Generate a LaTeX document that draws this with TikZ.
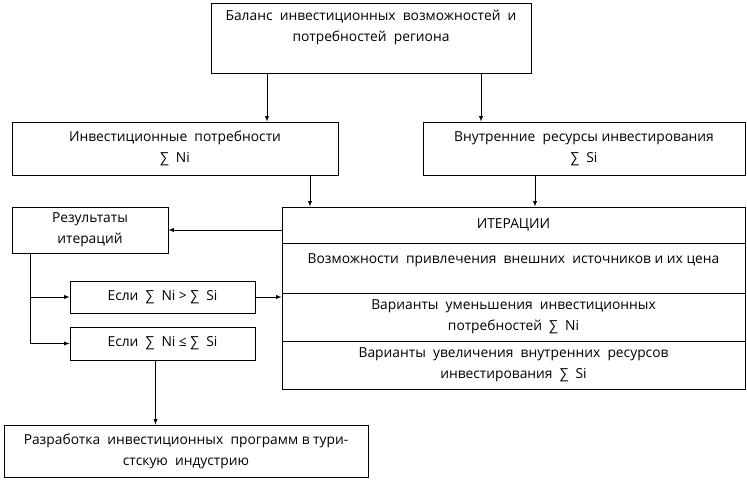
\documentclass[tikz,border=0pt]{standalone}
\usepackage{fontspec}
\setmainfont{Open Sans}
\begin{document}
\begin{tikzpicture}[>=latex, x=1pt, y=-1pt, line width=0.9pt,
  box/.style={draw, align=center, inner sep=2pt, font=\fontsize{13.8}{21}\selectfont}]
\useasboundingbox (0,0) rectangle (747,480);
% Верхний уровень
\node[box, minimum width=320, minimum height=70, text depth=25pt] (balance) at (371,38) {Баланс \ инвестиционных \ возможностей \ и\\потребностей \ региона};
\node[box, minimum width=326, minimum height=53] (needs) at (175,148.5) {Инвестиционные \ потребности\\∑ \ Ni};
\node[box, minimum width=322, minimum height=53] (resources) at (584,148.5) {Внутренние \ ресурсы инвестирования\\∑ \ Si};
% Блок итераций
\node[box, minimum width=463, minimum height=36] (iterhead) at (513.5,225) {ИТЕРАЦИИ};
\node[box, minimum width=463, minimum height=50, text depth=18pt] (external) at (513.5,268) {Возможности \ привлечения \ внешних \ источников и их цена};
\node[box, minimum width=463, minimum height=48] (reduce) at (513.5,317) {Варианты \ уменьшения \ инвестиционных\\потребностей \ ∑ \ Ni};
\node[box, minimum width=463, minimum height=48] (increase) at (513.5,365) {Варианты \ увеличения \ внутренних \ ресурсов\\инвестирования \ ∑ \ Si};
% Левая часть
\node[box, minimum width=156, minimum height=46] (results) at (90,230) {Результаты\\итераций};
\node[box, minimum width=185, minimum height=32] (ifmore) at (162.5,297) {Если \ ∑ \ Ni > ∑ \ Si};
\node[box, minimum width=185, minimum height=33] (ifless) at (162.5,343.5) {Если \ ∑ \ Ni ≤ ∑ \ Si};
\node[box, minimum width=364, minimum height=52] (develop) at (186,451) {Разработка \ инвестиционных \ программ в тури-\\стскую \ индустрию};
% Стрелки
\draw[->] ([xshift=-104pt]balance.south) -- ([xshift=-104pt]balance.south |- needs.north);
\draw[->] ([xshift=110pt]balance.south) -- ([xshift=110pt]balance.south |- resources.north);
\draw[->] ([xshift=135pt]needs.south) -- ([xshift=135pt]needs.south |- iterhead.north);
\draw[->] ([xshift=-49pt]resources.south) -- ([xshift=-49pt]resources.south |- iterhead.north);
\draw[->] (iterhead.west |- results.east) -- (results.east);
\draw[->] ([xshift=-60pt]results.south) |- (ifmore.west);
\draw[->] ([xshift=-60pt]results.south) |- (ifless.west);
\draw[->] (ifmore.east) -- (ifmore.east -| reduce.west);
\draw[->] ([xshift=-7pt]ifless.south) -- ([xshift=-7pt]ifless.south |- develop.north);
\end{tikzpicture}
\end{document}
